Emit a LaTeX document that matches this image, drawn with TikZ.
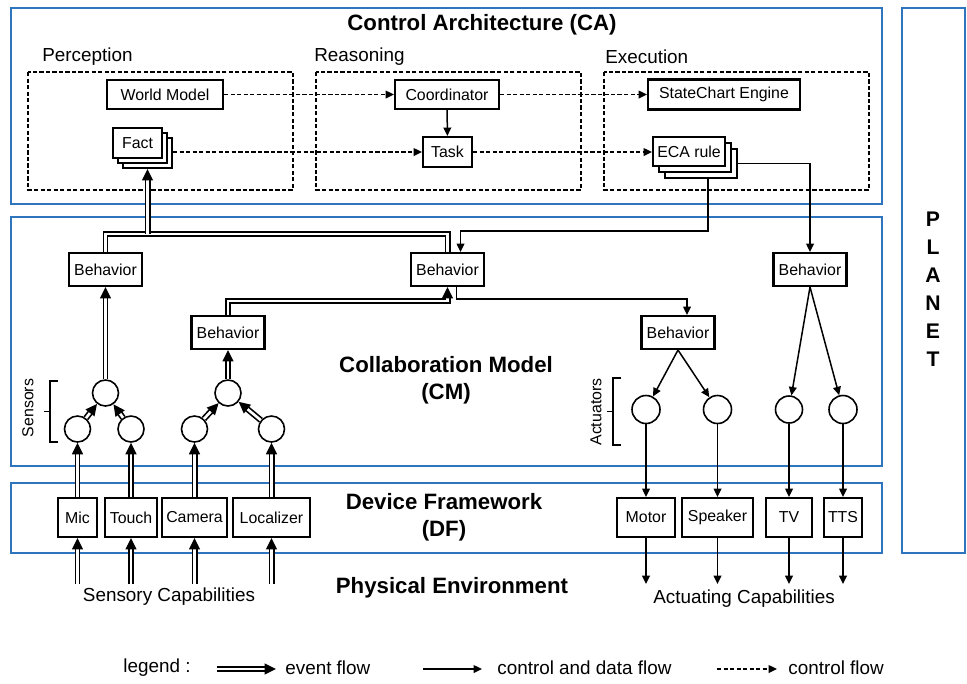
\documentclass[tikz,border=0pt]{standalone}
\usepackage{fontspec}
\setmainfont{Liberation Sans}
\usetikzlibrary{arrows.meta,calc}
\definecolor{frameblue}{RGB}{46,117,190}
\newdimen\pxu \pxu=0.567pt
\begin{document}
\begin{tikzpicture}[x=0.567pt,y=-0.567pt,
  layer/.style={draw=frameblue, line width=0.9pt},
  group/.style={draw, line width=0.8pt, dash pattern=on 2.4pt off 1.3pt},
  box/.style={draw, line width=1.15pt, fill=white, inner sep=0pt, font=\fontsize{9}{11}\selectfont},
  beh/.style={box, minimum width=73\pxu, minimum height=33\pxu},
  dev/.style={box, minimum height=39\pxu},
  port/.style={draw, circle, line width=0.9pt, inner sep=0pt},
  ctl/.style={line width=0.85pt, -{Triangle[length=4.8pt,width=4.4pt]}},
  cflow/.style={ctl, dash pattern=on 2.4pt off 1.3pt},
  evtline/.style={double, line width=0.95pt, double distance=1.5pt},
  evt/.style={evtline, -{Triangle[length=6.5pt,width=6.2pt]}},
  lbl/.style={inner sep=0pt, font=\fontsize{10.7}{13}\selectfont},
  ttl/.style={inner sep=0pt, align=center, font=\bfseries\fontsize{12.6}{15.3}\selectfont},
  small/.style={inner sep=0pt, font=\fontsize{9}{11}\selectfont}
]
\useasboundingbox (0,0) rectangle (967,683);

% layer frames
\draw[layer] (11,8) rectangle (882,204);
\draw[layer] (11,217) rectangle (882,466);
\draw[layer] (11,483) rectangle (882,553);
\draw[layer] (902,8) rectangle (965,553);

% layer titles
\node[ttl] (tCA) at (482,25) {Control Architecture (CA)};
\node[ttl] (tCM) at (446,380) {Collaboration Model\\(CM)};
\node[ttl] (tDF) at (444,517) {Device Framework\\(DF)};
\node[ttl] (tPE) at (452,588) {Physical Environment};
\node[align=center, inner sep=0pt, font=\bfseries\fontsize{12}{15.9}\selectfont] (planet) at (933,289) {P\\L\\A\\N\\E\\T};

% control architecture groups
\draw[group] (28,72) rectangle (293,190);
\draw[group] (316,72) rectangle (581,190);
\draw[group] (604,72) rectangle (869,190);
\node[lbl, anchor=west] (gP) at (42,57) {Perception};
\node[lbl, anchor=west] (gR) at (314,57) {Reasoning};
\node[lbl, anchor=west] (gE) at (605,57) {Execution};

% control architecture components
\node[box, minimum width=116\pxu, minimum height=29\pxu] (wm) at (165,94.5) {World Model};
\node[box, minimum width=104\pxu, minimum height=29\pxu] (coord) at (447,94.5) {Coordinator};
\node[box, minimum width=152\pxu, minimum height=30\pxu] (sce) at (724,94.5) {StateChart Engine};
\node[box, minimum width=49\pxu, minimum height=30\pxu] (fact3) at (147.5,153) {};
\node[box, minimum width=49\pxu, minimum height=30\pxu] (fact2) at (142.5,148) {};
\node[box, minimum width=49\pxu, minimum height=30\pxu] (fact) at (137.5,143) {Fact};
\node[box, minimum width=49\pxu, minimum height=30\pxu] (task) at (447.5,152) {Task};
\node[box, minimum width=72\pxu, minimum height=29\pxu] (eca3) at (701,163.5) {};
\node[box, minimum width=72\pxu, minimum height=29\pxu] (eca2) at (695,157.5) {};
\node[box, minimum width=72\pxu, minimum height=29\pxu] (eca) at (689,151.5) {ECA rule};

\draw[cflow] (wm) -- (coord);
\draw[cflow] (coord) -- (sce);
\draw[ctl] (coord) -- (task);
\draw[cflow] (fact3.east |- task.west) -- (task.west);
\draw[cflow] (task.east) -- (task.east -| eca.west);

% behaviors
\node[beh] (bL) at (105.5,269.5) {Behavior};
\node[beh] (bC) at (447.5,269.5) {Behavior};
\node[beh] (bR) at (810,269.5) {Behavior};
\node[beh] (bM) at (228,332.5) {Behavior};
\node[beh] (bA) at (678,332.5) {Behavior};

% sensor and actuator ports
\node[port, minimum size=26\pxu] (cA1) at (105.5,393) {};
\node[port, minimum size=26\pxu] (cA2) at (77.5,429) {};
\node[port, minimum size=26\pxu] (cA3) at (131,429) {};
\node[port, minimum size=26\pxu] (cB1) at (228,393) {};
\node[port, minimum size=26\pxu] (cB2) at (194.5,429) {};
\node[port, minimum size=26\pxu] (cB3) at (271.5,429) {};
\node[port, minimum size=28\pxu] (cC1) at (646,409.5) {};
\node[port, minimum size=28\pxu] (cC2) at (717.5,409.5) {};
\node[port, minimum size=27\pxu] (cD1) at (789,409.5) {};
\node[port, minimum size=28\pxu] (cD2) at (843,409.5) {};

% brackets
\draw[line width=0.7pt] (58,381) -- (50,381) -- (50,442) -- (58,442) (50,411.5) -- (44,411.5);
\draw[line width=0.7pt] (621,378) -- (613,378) -- (613,445) -- (621,445) (613,411.5) -- (607,411.5);
\node[small, rotate=90] (lS) at (28,408) {Sensors};
\node[small, rotate=90] (lA) at (596,412) {Actuators};

% devices
\node[dev, minimum width=39\pxu] (mic) at (77.5,517.5) {Mic};
\node[dev, minimum width=52\pxu] (touch) at (131,517.5) {Touch};
\node[dev, minimum width=65\pxu] (camera) at (194.5,517.5) {Camera};
\node[dev, minimum width=77\pxu] (loc) at (271.5,517.5) {Localizer};
\node[dev, minimum width=58\pxu] (motor) at (646,517.5) {Motor};
\node[dev, minimum width=71\pxu] (speaker) at (717.5,517.5) {Speaker};
\node[dev, minimum width=46\pxu] (tv) at (789,517.5) {TV};
\node[dev, minimum width=38\pxu] (tts) at (843,517.5) {TTS};

% ECA rule to behaviors
\draw[ctl] ($(eca3.south)+(7,0)$) |- ($(bC.north)+(13,-21)$) -- ($(bC.north)+(13,0)$);
\draw[ctl] (eca3.east) -| (bR.north);

% event flow up to facts
\coordinate (evBus) at ($(bL.north)+(0,-18)$);
\draw[evtline] (bL.north) |- (evBus -| bC.north) -- (bC.north);
\draw[evt] (evBus -| fact3.south) -- (fact3.south);
\draw[evt] (bM.north) |- ($(bC.south)+(0,14)$) -- (bC.south);
\draw[ctl] ($(bC.south)+(9,0)$) |- ($(bA.north)+(9,-16)$) -- ($(bA.north)+(9,0)$);

% sensors
\draw[evt] (cA1.north) -- (bL.south);
\draw[evt] (cB1.north) -- (bM.south);
\draw[evt] (cA2) -- (cA1);
\draw[evt] (cA3) -- (cA1);
\draw[evt] (cB2) -- (cB1);
\draw[evt] (cB3) -- (cB1);
\draw[evt] (mic.north) -- (cA2.south);
\draw[evt] (touch.north) -- (cA3.south);
\draw[evt] (camera.north) -- (cB2.south);
\draw[evt] (loc.north) -- (cB3.south);
\coordinate (inMic) at ($(mic.south)+(0,46)$);
\coordinate (inTouch) at ($(touch.south)+(0,46)$);
\coordinate (inCamera) at ($(camera.south)+(0,46)$);
\coordinate (inLoc) at ($(loc.south)+(0,46)$);
\draw[evt] (inMic) -- (mic.south);
\draw[evt] (inTouch) -- (touch.south);
\draw[evt] (inCamera) -- (camera.south);
\draw[evt] (inLoc) -- (loc.south);

% actuators
\draw[ctl] (bA.south) -- (cC1);
\draw[ctl] (bA.south) -- (cC2);
\draw[ctl] (bR.south) -- (cD1);
\draw[ctl] (bR.south) -- (cD2);
\draw[ctl] (cC1.south) -- (motor.north);
\draw[ctl] (cC2.south) -- (speaker.north);
\draw[ctl] (cD1.south) -- (tv.north);
\draw[ctl] (cD2.south) -- (tts.north);
\coordinate (outMotor) at ($(motor.south)+(0,46)$);
\coordinate (outSpeaker) at ($(speaker.south)+(0,46)$);
\coordinate (outTv) at ($(tv.south)+(0,46)$);
\coordinate (outTts) at ($(tts.south)+(0,46)$);
\draw[ctl] (motor.south) -- (outMotor);
\draw[ctl] (speaker.south) -- (outSpeaker);
\draw[ctl] (tv.south) -- (outTv);
\draw[ctl] (tts.south) -- (outTts);

\node[lbl] (sensCap) at (169,597) {Sensory Capabilities};
\node[lbl] (actCap) at (744,599) {Actuating Capabilities};

% legend
\node[lbl] (leg) at (157,668) {legend :};
\coordinate (lgE1) at (217,669);
\coordinate (lgE2) at (276,669);
\draw[evt] (lgE1) -- (lgE2);
\node[lbl, anchor=west] (lgEt) at (285,668) {event flow};
\coordinate (lgC1) at (423,669);
\coordinate (lgC2) at (482,669);
\draw[ctl] (lgC1) -- (lgC2);
\node[lbl, anchor=west] (lgCt) at (497,668) {control and data flow};
\coordinate (lgD1) at (717,669);
\coordinate (lgD2) at (777,669);
\draw[cflow] (lgD1) -- (lgD2);
\node[lbl, anchor=west] (lgDt) at (788,668) {control flow};
\end{tikzpicture}
\end{document}
